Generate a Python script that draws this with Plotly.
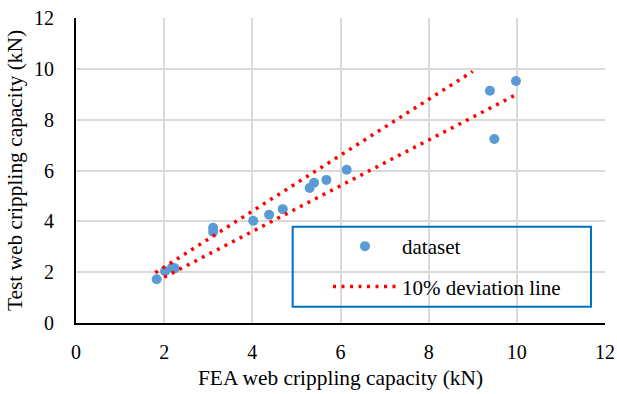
import plotly.graph_objects as go

# FEA vs. test web crippling capacity (kN)
fea_capacity = [1.83, 2.02, 2.18, 2.24, 3.11, 3.11, 4.02, 4.38, 4.69, 5.30, 5.40, 5.68, 6.14, 9.39, 9.49, 9.98]
test_capacity = [1.72, 2.04, 2.18, 2.15, 3.75, 3.59, 4.02, 4.26, 4.48, 5.31, 5.52, 5.63, 6.03, 9.14, 7.24, 9.52]

# +/-10% deviation bounds: (start, end) of FEA capacity and factor
upper_range = [1.8, 9.0]
lower_range = [2.0, 10.0]
upper_factor = 1.1
lower_factor = 0.9

axis_ticks = [0, 2, 4, 6, 8, 10, 12]

dev_x = upper_range + [None] + lower_range
dev_y = [v * upper_factor for v in upper_range] + [None] + [v * lower_factor for v in lower_range]

serif = "Times New Roman, Liberation Serif, serif"

fig = go.Figure()
fig.add_trace(go.Scatter(
    x=fea_capacity, y=test_capacity, mode="markers", name="dataset",
    marker=dict(color="#5b9bd5", size=10, line=dict(width=0)),
    legendgroup="a",
))
fig.add_trace(go.Scatter(
    x=dev_x, y=dev_y, mode="lines", name="10% deviation line",
    line=dict(color="#ff0000", width=3.5, dash="3px,5.5px"),
    connectgaps=False, legendgroup="b",
))

axis_common = dict(
    range=[0, 12], tickvals=axis_ticks, ticktext=[str(t) for t in axis_ticks],
    showgrid=True, gridcolor="#d9d9d9", gridwidth=1.5,
    zeroline=False, showline=True, linecolor="#000000", linewidth=2,
    ticks="", tickfont=dict(family=serif, size=20, color="#000000"),
    fixedrange=True, automargin=False,
)

fig.update_layout(
    width=617, height=394,
    margin=dict(l=76, r=12, t=18, b=71),
    paper_bgcolor="#ffffff", plot_bgcolor="#ffffff",
    font=dict(family=serif, color="#000000"),
    xaxis=dict(**axis_common, ticklabelstandoff=10,
               title=dict(text="FEA web crippling capacity (kN)",
                          font=dict(family=serif, size=21.4, color="#000000"), standoff=8)),
    yaxis=dict(**axis_common, ticklabelstandoff=16,
               title=dict(text="Test web crippling capacity (kN)",
                          font=dict(family=serif, size=21.4, color="#000000"), standoff=6)),
    legend=dict(
        x=(328 - 76) / 529, y=0.318, xanchor="left", yanchor="top",
        bgcolor="rgba(0,0,0,0)", borderwidth=0,
        font=dict(family=serif, size=21, color="#000000"),
        itemwidth=64, traceorder="grouped", tracegroupgap=10,
    ),
    showlegend=True,
    shapes=[dict(
        type="rect", xref="paper", yref="paper",
        x0=0.4096, x1=0.9735, y0=0.0534, y1=0.3157,
        line=dict(color="#0070c0", width=2), fillcolor="rgba(0,0,0,0)",
        layer="above",
    )],
)

fig.write_html("out.html")
